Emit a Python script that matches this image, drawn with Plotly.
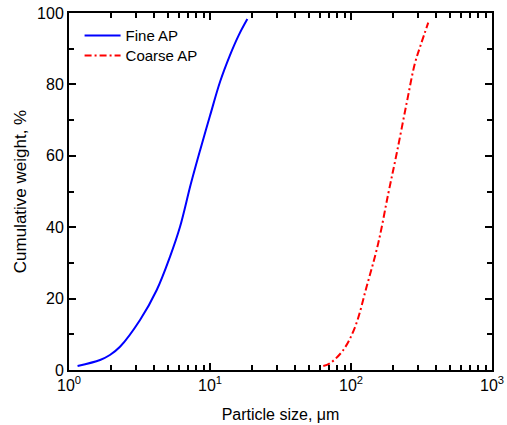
import plotly.graph_objects as go

# cumulative weight (%) vs particle size (um)
fine_size   = [1.15, 1.66, 1.95, 2.30, 3.19, 4.19, 5.20, 6.13, 7.30, 8.50, 10.0, 11.8, 13.8, 16.0, 18.4]
fine_weight = [1.1, 2.8, 4.2, 6.5, 14.0, 22.4, 31.7, 40.1, 52.0, 61.5, 71.2, 80.8, 88.0, 93.8, 98.3]

coarse_size   = [63.6, 71, 88.2, 107, 129, 156, 184, 211, 248, 284, 315, 353]
coarse_weight = [1.1, 1.9, 5.6, 12.1, 23.3, 35.5, 49.5, 60.7, 74.7, 85.9, 91.5, 97.3]

x_ticks     = [1, 10, 100, 1000]
x_tick_text = ['10<sup>0</sup>', '10<sup>1</sup>', '10<sup>2</sup>', '10<sup>3</sup>']
x_minor     = [m * d for d in (1, 10, 100) for m in range(2, 10)]

FONT = 'Liberation Sans, Arial'

fig = go.Figure()

fig.add_trace(go.Scatter(x=fine_size, y=fine_weight,
                         mode='lines', name='Fine AP', line_shape='spline',
                         line=dict(color='#0000ff', width=2),
                         legend='legend', showlegend=True))

fig.add_trace(go.Scatter(x=coarse_size, y=coarse_weight,
                         mode='lines', name='Coarse AP', line_shape='spline',
                         line=dict(color='#ff0000', width=2, dash='7px,3px,2px,3px'),
                         legend='legend2', showlegend=True))

axis_style = dict(showline=True, linecolor='black', linewidth=2,
                  mirror='ticks', ticks='inside', tickwidth=1.5,
                  ticklen=7, tickcolor='black', showgrid=False, zeroline=False,
                  tickfont=dict(family=FONT, size=16, color='black'))

minor_style = dict(ticks='inside', ticklen=5, tickwidth=1.5,
                   tickcolor='black', showgrid=False)

fig.update_xaxes(type='log', range=[0, 3],
                 tickvals=x_ticks, ticktext=x_tick_text,
                 minor=dict(tickvals=x_minor, **minor_style),
                 title=dict(text='Particle size, μm', standoff=16,
                            font=dict(family=FONT, size=16, color='black')),
                 **axis_style)

fig.update_yaxes(range=[0, 100], dtick=20,
                 minor=dict(dtick=10, **minor_style),
                 title=dict(text='Cumulative weight, %', standoff=6,
                            font=dict(family=FONT, size=17, color='black')),
                 **axis_style)

legend_style = dict(xanchor='left', yanchor='middle', bgcolor='rgba(0,0,0,0)',
                    itemwidth=36,
                    font=dict(family=FONT, size=15, color='black'))

fig.update_layout(width=507, height=425, showlegend=True,
                  margin=dict(l=69, r=15, t=13, b=55, autoexpand=False),
                  plot_bgcolor='white', paper_bgcolor='white',
                  legend=dict(x=0.025, y=0.936, **legend_style),
                  legend2=dict(x=0.025, y=0.88, **legend_style))

fig.write_html("out.html", config={'displayModeBar': False},
               post_script="document.body.style.margin='0';")
